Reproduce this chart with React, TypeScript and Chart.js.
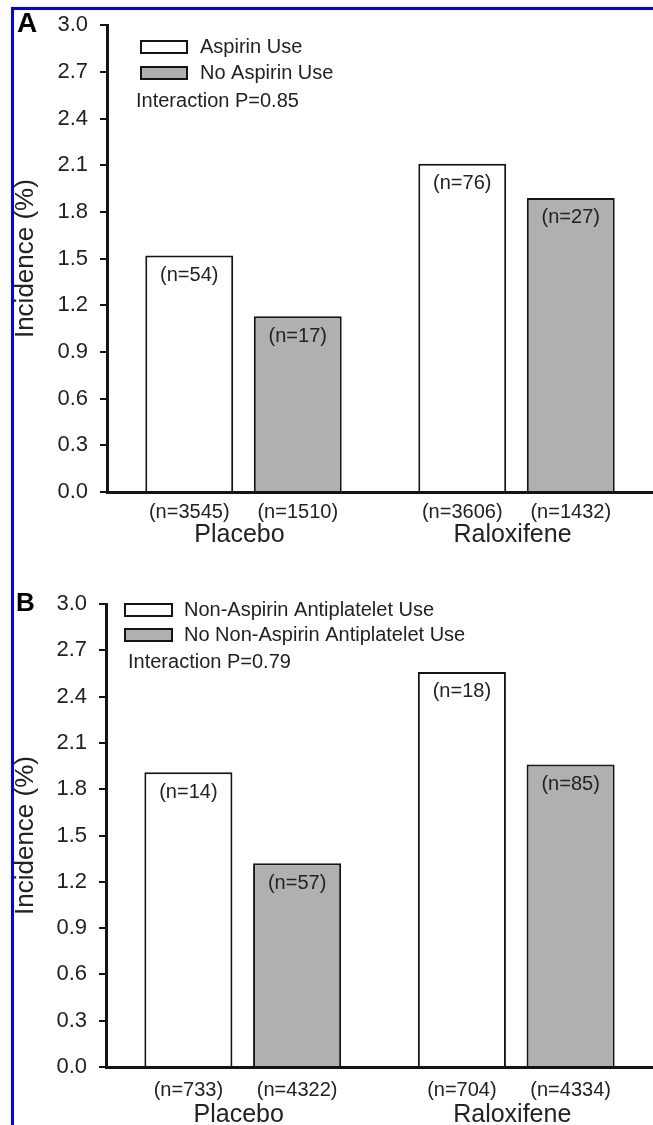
import React, { useEffect, useRef } from 'react';
import { Chart, registerables } from 'chart.js';

Chart.register(...registerables);

// ---------------- data ----------------
const CATEGORIES = ['Placebo', 'Raloxifene'];
const Y_TICKS = [0, 0.3, 0.6, 0.9, 1.2, 1.5, 1.8, 2.1, 2.4, 2.7, 3.0];

const A_SERIES = ['Aspirin Use', 'No Aspirin Use'];
const A_USE = [1.52, 2.11];
const A_NO_USE = [1.13, 1.89];
const A_USE_EVENTS = ['(n=54)', '(n=76)'];
const A_NO_USE_EVENTS = ['(n=17)', '(n=27)'];
const A_USE_TOTAL = ['(n=3545)', '(n=3606)'];
const A_NO_USE_TOTAL = ['(n=1510)', '(n=1432)'];
const A_INTERACTION = 'Interaction P=0.85';

const B_SERIES = ['Non-Aspirin Antiplatelet Use', 'No Non-Aspirin Antiplatelet Use'];
const B_USE = [1.91, 2.56];
const B_NO_USE = [1.32, 1.96];
const B_USE_EVENTS = ['(n=14)', '(n=18)'];
const B_NO_USE_EVENTS = ['(n=57)', '(n=85)'];
const B_USE_TOTAL = ['(n=733)', '(n=704)'];
const B_NO_USE_TOTAL = ['(n=4322)', '(n=4334)'];
const B_INTERACTION = 'Interaction P=0.79';

const Y_TITLE = 'Incidence (%)';

// ---------------- styles ----------------
const FONT = "Arial, 'Liberation Sans', Helvetica, sans-serif";
const TEXT = '#222222';
const LINE = '#141414';
const WHITE_FILL = '#ffffff';
const GRAY_FILL = '#b0b0b0';

type Panel = {
  letter: string;
  series: string[];
  use: number[];
  noUse: number[];
  useEvents: string[];
  noUseEvents: string[];
  useTotal: string[];
  noUseTotal: string[];
  interaction: string;
  // layout
  height: number;
  plotTop: number;
  plotBottom: number;
  axisX: number;
  padLeft: number;
  letterX: number;
  letterY: number;
  letterSize: number;
  boxX: number;
  boxW: number;
  boxH: number;
  boxY: number[];
  legendTextX: number;
  legendTextY: number[];
  pX: number;
  pY: number;
  nOffset: number;
  groupOffset: number;
  inOffset: number;
};

const PANEL_A: Panel = {
  letter: 'A',
  series: A_SERIES,
  use: A_USE,
  noUse: A_NO_USE,
  useEvents: A_USE_EVENTS,
  noUseEvents: A_NO_USE_EVENTS,
  useTotal: A_USE_TOTAL,
  noUseTotal: A_NO_USE_TOTAL,
  interaction: A_INTERACTION,
  height: 562,
  plotTop: 22,
  plotBottom: 492,
  axisX: 107,
  padLeft: 10,
  letterX: 17,
  letterY: 24,
  letterSize: 28,
  boxX: 140,
  boxW: 48,
  boxH: 14,
  boxY: [40, 66],
  legendTextX: 200,
  legendTextY: [47, 73],
  pX: 136,
  pY: 101,
  nOffset: 20,
  groupOffset: 43,
  inOffset: 20,
};

const PANEL_B: Panel = {
  letter: 'B',
  series: B_SERIES,
  use: B_USE,
  noUse: B_NO_USE,
  useEvents: B_USE_EVENTS,
  noUseEvents: B_NO_USE_EVENTS,
  useTotal: B_USE_TOTAL,
  noUseTotal: B_NO_USE_TOTAL,
  interaction: B_INTERACTION,
  height: 563,
  plotTop: 42,
  plotBottom: 505,
  axisX: 106,
  padLeft: 10,
  letterX: 16,
  letterY: 42,
  letterSize: 26,
  boxX: 124,
  boxW: 49,
  boxH: 14,
  boxY: [41, 66],
  legendTextX: 184,
  legendTextY: [48, 73],
  pX: 128,
  pY: 100,
  nOffset: 23,
  groupOffset: 48,
  inOffset: 20,
};

function makeDecor(p: Panel) {
  return {
    id: 'panelDecor',
    afterDraw(chart: any) {
      const ctx = chart.ctx as CanvasRenderingContext2D;
      const area = chart.chartArea;
      ctx.save();

      // panel letter
      ctx.fillStyle = '#000';
      ctx.font = `bold ${p.letterSize}px ${FONT}`;
      ctx.textAlign = 'left';
      ctx.textBaseline = 'middle';
      ctx.fillText(p.letter, p.letterX, p.letterY);

      // legend
      const fills = [WHITE_FILL, GRAY_FILL];
      ctx.font = `20px ${FONT}`;
      for (let i = 0; i < 2; i++) {
        ctx.fillStyle = fills[i];
        ctx.fillRect(p.boxX, p.boxY[i], p.boxW, p.boxH);
        ctx.strokeStyle = LINE;
        ctx.lineWidth = 2;
        ctx.strokeRect(p.boxX + 1, p.boxY[i] + 1, p.boxW - 2, p.boxH - 2);
        ctx.fillStyle = TEXT;
        ctx.textAlign = 'left';
        ctx.fillText(p.series[i], p.legendTextX, p.legendTextY[i]);
      }
      ctx.fillText(p.interaction, p.pX, p.pY);

      // bar labels
      const inside = [p.useEvents, p.noUseEvents];
      const below = [p.useTotal, p.noUseTotal];
      ctx.textAlign = 'center';
      for (let d = 0; d < 2; d++) {
        const meta = chart.getDatasetMeta(d);
        meta.data.forEach((el: any, i: number) => {
          ctx.fillStyle = TEXT;
          ctx.font = `20px ${FONT}`;
          ctx.fillText(inside[d][i], el.x, el.y + p.inOffset);
          ctx.fillText(below[d][i], el.x, area.bottom + p.nOffset);
        });
      }

      // group labels
      const xs = chart.scales.x;
      ctx.font = `25px ${FONT}`;
      ctx.fillStyle = TEXT;
      CATEGORIES.forEach((c, i) => {
        ctx.fillText(c, xs.getPixelForValue(i) - 4, area.bottom + p.groupOffset);
      });

      ctx.restore();
    },
  };
}

function PanelChart({ p, top }: { p: Panel; top: number }) {
  const ref = useRef<HTMLCanvasElement>(null);
  useEffect(() => {
    if (!ref.current) return;
    const chart = new Chart(ref.current, {
      type: 'bar',
      data: {
        labels: CATEGORIES,
        datasets: [
          {
            label: p.series[0],
            data: p.use,
            backgroundColor: WHITE_FILL,
            borderColor: LINE,
            borderWidth: 2,
            borderSkipped: 'bottom',
            categoryPercentage: 0.795,
            barPercentage: 0.81,
          },
          {
            label: p.series[1],
            data: p.noUse,
            backgroundColor: GRAY_FILL,
            borderColor: LINE,
            borderWidth: 2,
            borderSkipped: 'bottom',
            categoryPercentage: 0.795,
            barPercentage: 0.81,
          },
        ],
      },
      options: {
        responsive: false,
        animation: false,
        devicePixelRatio: 1,
        layout: {
          padding: { left: p.padLeft, top: p.plotTop, right: 0, bottom: 0 },
        },
        plugins: {
          legend: { display: false },
          tooltip: { enabled: false },
          title: { display: false },
        },
        scales: {
          x: {
            type: 'category',
            grid: { display: false, drawTicks: false },
            border: { display: true, color: LINE, width: 3 },
            ticks: { display: false },
            afterFit: (s: any) => {
              s.height = p.height - p.plotBottom;
            },
          },
          y: {
            type: 'linear',
            min: 0,
            max: 3,
            afterBuildTicks: (s: any) => {
              s.ticks = Y_TICKS.map((v) => ({ value: v }));
            },
            afterFit: (s: any) => {
              s.width = p.axisX - p.padLeft;
            },
            grid: {
              display: true,
              drawOnChartArea: false,
              drawTicks: true,
              tickLength: 7,
              color: LINE,
              lineWidth: 2,
            },
            border: { display: true, color: LINE, width: 3 },
            ticks: {
              padding: 12,
              color: TEXT,
              font: { family: FONT, size: 22 },
              callback: (v: any) => Number(v).toFixed(1),
            },
            title: {
              display: true,
              text: Y_TITLE,
              color: TEXT,
              font: { family: FONT, size: 26 },
              padding: { top: 0, bottom: 0 },
            },
          },
        },
      },
      plugins: [makeDecor(p)],
    } as any);
    return () => chart.destroy();
  }, [p]);
  return (
    <canvas
      ref={ref}
      width={653}
      height={p.height}
      style={{ position: 'absolute', left: 0, top, width: 653, height: p.height }}
    />
  );
}

export default function App() {
  return (
    <div
      style={{
        position: 'absolute',
        left: 0,
        top: 0,
        width: 653,
        height: 1125,
        background: '#ffffff',
        overflow: 'hidden',
      }}
    >
      <PanelChart p={PANEL_A} top={0} />
      <PanelChart p={PANEL_B} top={562} />
      <div
        style={{
          position: 'absolute',
          left: 11,
          top: 7,
          right: 0,
          bottom: 0,
          borderTop: '3px solid #0000ff',
          borderLeft: '3px solid #0000ff',
          pointerEvents: 'none',
        }}
      />
    </div>
  );
}
